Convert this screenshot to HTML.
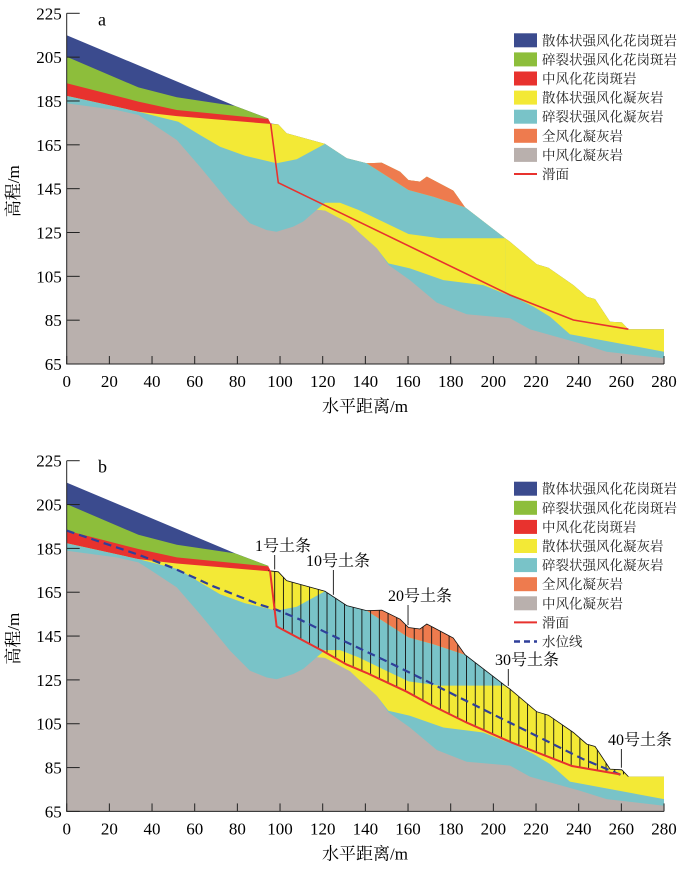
<!DOCTYPE html>
<html><head><meta charset="utf-8"><style>
body{margin:0;background:#fff}
svg{display:block;font-family:"Liberation Serif","Noto Serif CJK SC",serif}
.cn{font-family:"Liberation Serif","Noto Serif CJK SC",serif}
</style></head><body>
<svg id="c" width="700" height="871" viewBox="0 0 700 871" xmlns="http://www.w3.org/2000/svg"></svg>
<script>
const surface=[[0,215],[79,182.7],[94.5,177],[94.5,174.8],[99.2,174.3],[103.1,170.3],[121.1,165.4],[131.3,158.9],[140.6,156.6],[147.7,156.8],[156.3,152.7],[160.2,148.9],[165.6,148.2],[168.8,150.5],[181.2,144.1],[186.7,136.5],[205.5,122.4],[207.8,120.8],[220.3,110.5],[225.8,108.9],[237.5,101],[243.8,95.7],[247.7,94.6],[254.7,84.3],[260.2,84],[263.3,80.9],[280,80.9],[280,70.6]];
const greenTop=[[0,205.2],[33.6,191.2],[51.6,186.7],[78.9,182.7],[94.5,177]];
const redTop=[[0,193.1],[33.6,184.7],[51.6,180.9],[94.5,176.8],[95.5,175]];
const redBottom=[[0,187.3],[33.6,180.1],[51.6,178.1],[94.5,174.6]];
const cyanTop=[[0,187.3],[33.6,180.1],[52.3,175.5],[62.5,169.5],[71.9,164.1],[83.6,160],[98.4,156.6],[107.8,158.4],[121.1,165.4],[131.3,158.9],[140.6,156.6],[160.2,144.4],[171.9,141.3],[186.7,136.5],[205.5,122.4],[205.5,97],[209.4,95.7],[218.8,91.2],[226.6,86.6],[235.9,78.6],[280,70.6]];
const orangeBottom=[[186.7,136.5],[171.9,141.3],[160.2,144.4],[140.6,156.6]];
const midYellow=[[117.2,135.3],[121.1,138.6],[128.1,138.6],[136.7,135.3],[160.2,124.3],[175,122.4],[205.5,122.4],[205.5,97],[195.3,101],[176.6,103.3],[160.9,108.6],[150.8,110.9],[145.3,117.8],[137.5,124.6],[132.8,128.9],[121.1,135]];
const grayTop=[[0,183.9],[23.4,180.9],[33.6,178.6],[39.8,174.8],[51.6,167.2],[62.5,155],[76.6,138.3],[85.9,129.2],[93.8,126.1],[98.4,125.3],[106.2,127.7],[110.9,130],[117.2,135.3],[121.1,135],[132.8,128.9],[137.5,124.6],[145.3,117.8],[150.8,110.2],[160.9,103.3],[173.5,93],[187.5,87.7],[207.8,85.9],[217.2,80.8],[240.6,74.4],[253.1,70.6],[280,67.6]];
const slipA=[[95.6,174.8],[99.2,147.7],[109.4,142.9],[207.8,96.5],[237.5,85.1],[263.3,80.9]];
const slipB=[[95.3,174.9],[98.4,149.4],[120.3,138.1],[131.3,132],[140.6,128.2],[159.4,119.6],[170.3,113.8],[187.5,105.5],[208.6,96.4],[236.8,85.7],[259.4,81.9]];
const water=[[0,193.1],[33.6,182.1],[50,176],[68.7,167.7],[90.6,159.3],[98.4,157],[109.4,152.5],[120.3,147.2],[150,133.5],[170.3,123.7],[200,109.2],[217.2,100.9],[242.2,88.8],[260.9,81.2]];
const xTicks=[0,20,40,60,80,100,120,140,160,180,200,220,240,260,280];
const yTicks=[65,85,105,125,145,165,185,205,225];
const legendNames=["散体状强风化花岗斑岩","碎裂状强风化花岗斑岩","中风化花岗斑岩","散体状强风化凝灰岩","碎裂状强风化凝灰岩","全风化凝灰岩","中风化凝灰岩","滑面","水位线"];
const legendColors=["#3b4b8e","#8dbe3b","#e8322e","#f3e936","#79c3c8","#ee7b4e","#b9b0ad","#e8322e","#2f3f9a"];
const sliceLabels=[["1号土条",97.5,283,551],["10号土条",125,338,566],["20号土条",160,420,601],["30号土条",207,527,665],["40号土条",260,640,745]];

const NS="http://www.w3.org/2000/svg";
const svg=document.getElementById('c');
function X(x){return 66.7+x*2.1333;}
function mk(tag,attrs,parent){const e=document.createElementNS(NS,tag);for(const k in attrs)e.setAttribute(k,attrs[k]);(parent||svg).appendChild(e);return e;}
function pts(arr,top){return arr.map(p=>X(p[0]).toFixed(1)+','+(top+(225-p[1])*2.192).toFixed(1)).join(' ');}
function under(arr,top){const f=[[arr[0][0],65],...arr,[arr[arr.length-1][0],65]];return pts(f,top);}

function panel(top,letter,isB){
  const g=mk('g',{});
  
  
  const Y=e=>top+(225-e)*2.192;
  const layers=[["blue-layer",under(surface,top),legendColors[0]],
   ["green-layer",under(greenTop,top),legendColors[1]],
   ["red-layer",under(redTop,top),legendColors[2]],
   ["yellow-layer",under([...redBottom,...surface.filter(p=>p[0]>94.5)],top),legendColors[3]],
   ["cyan-layer",under(cyanTop,top),legendColors[4]],
   ["middle-yellow-band",pts(midYellow,top),legendColors[3]],
   ["orange-layer",pts([...surface.filter(p=>p[0]>=140.6&&p[0]<=186.7),...orangeBottom],top),legendColors[5]],
   ["gray-layer",under(grayTop,top),legendColors[6]]];
  layers.forEach(l=>{const p=mk('polygon',{points:l[1],fill:l[2]},g);
    
    });
  if(isB){
    const interp=(arr,x)=>{for(let i=0;i<arr.length-1;i++){const a=arr[i],b=arr[i+1];if(x>=a[0]&&x<=b[0]&&b[0]>a[0])return a[1]+(b[1]-a[1])*(x-a[0])/(b[0]-a[0]);}return arr[arr.length-1][1];};
    const surf2=surface.slice(3);
    for(let i=0;i<=40;i++){const x=97.5+i*(261-97.5)/40;
      const l=mk('line',{x1:X(x),x2:X(x),y1:Y(interp(surf2,x)),y2:Y(interp(slipB,x)),stroke:'#111','stroke-width':0.9},g);
      
      }
    const so=mk('polyline',{points:pts(surf2.filter(p=>p[0]<=263.3),top),fill:'none',stroke:'#111','stroke-width':0.8},g);
    
    
    const w=mk('polyline',{points:pts(water,top),fill:'none',stroke:'#2f3f9a','stroke-width':2.2,'stroke-dasharray':'8,5'},g);
    
    
    sliceLabels.forEach(s=>{const t=mk('text',{x:s[2],y:s[3],'font-size':16,'text-anchor':'middle',class:'cn'},g);t.textContent=s[0];
      
      
      const ax=X(s[1]);const ay=Y(interp(surf2,s[1]));
      const a=mk('line',{x1:ax,y1:s[3]+4,x2:ax,y2:ay-2,stroke:'#111','stroke-width':0.9},g);
      
      });
  }
  const sl=mk('polyline',{points:pts(isB?slipB:slipA,top),fill:'none',stroke:'#e8322e','stroke-width':isB?2:1.6},g);
  
  
  const x0=66.7,yb=Y(65);
  const ax=mk('path',{d:`M${x0},${Y(225)}V${yb}H${X(280)}`,fill:'none',stroke:'#222','stroke-width':1},g);
  
  
  xTicks.forEach(v=>{mk('line',{x1:X(v),x2:X(v),y1:yb,y2:yb-8,stroke:'#222'},g);
    const t=mk('text',{x:X(v),y:yb+23,'font-size':17,'text-anchor':'middle'},g);t.textContent=v;
    
    });
  yTicks.forEach(v=>{mk('line',{x1:x0,x2:x0+13,y1:Y(v),y2:Y(v),stroke:'#222'},g);
    const t=mk('text',{x:x0-5,y:Y(v)+6,'font-size':17,'text-anchor':'end'},g);t.textContent=v;
    
    });
  const xt=mk('text',{x:365,y:yb+48,'font-size':17,'text-anchor':'middle',class:'cn'},g);xt.textContent='水平距离/m';
  
  
  const cy=top+178;
  const yt=mk('text',{x:0,y:0,'font-size':17,'text-anchor':'middle',class:'cn',transform:`translate(19,${cy}) rotate(-90)`},g);yt.textContent='高程/m';
  
  
  const pl=mk('text',{x:98,y:top+12,'font-size':18},g);pl.textContent=letter;
  
  
  const n=isB?9:8;const ly=top+(isB?28:27);
  for(let i=0;i<n;i++){const y=ly+i*19.1;
    let sw;
    if(i<7) sw=mk('rect',{x:514,y:y-7,width:23,height:14,fill:legendColors[i]},g);
    else if(i===7) sw=mk('line',{x1:514,x2:537,y1:y,y2:y,stroke:legendColors[7],'stroke-width':2},g);
    else sw=mk('line',{x1:514,x2:537,y1:y,y2:y,stroke:legendColors[8],'stroke-width':2.5,'stroke-dasharray':'6,4'},g);
    
    
    const t=mk('text',{x:542,y:y+5,'font-size':13.5,class:'cn',fill:'#222'},g);t.textContent=legendNames[i];
    
    }
}
panel(13.3,'a',false);
panel(460.7,'b',true);
</script>
</body></html>
